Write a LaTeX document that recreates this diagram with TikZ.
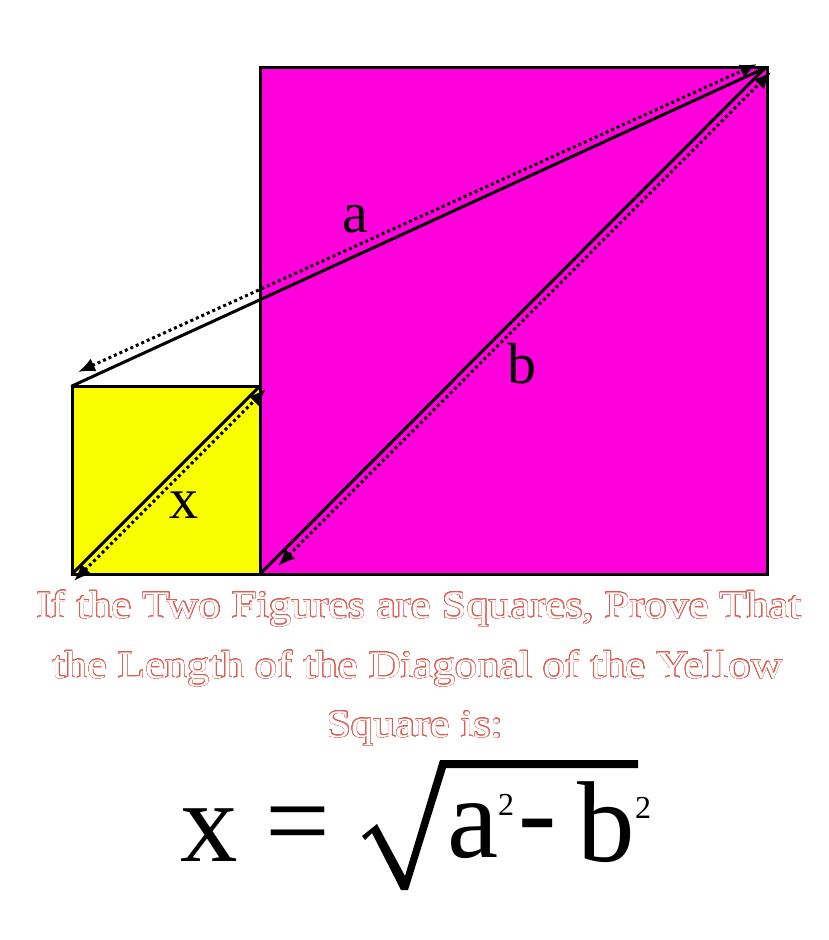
\documentclass[tikz,border=0pt]{standalone}
\usepackage{fontspec}
\setmainfont{Liberation Serif}
\newfontfamily\capfont[FakeStretch=1.14]{Liberation Serif}
\usepackage[copies]{contour}
\contourlength{0.5pt}
\contournumber{24}
\usetikzlibrary{arrows.meta}
\definecolor{mag}{RGB}{255,0,221}
\definecolor{yel}{RGB}{250,255,0}
\definecolor{salmon}{RGB}{215,95,85}
\tikzset{
  sq/.style={draw=black, line width=3pt},
  solidline/.style={draw=black, line width=3pt, line cap=round},
  dimarrow/.style={draw=black, line width=3pt, dash pattern=on 3pt off 3pt,
     {Latex[length=17pt,width=14pt]}-{Latex[length=17pt,width=14pt]}},
  lbl/.style={font=\fontsize{58}{60}\selectfont, inner sep=0pt, anchor=base},
  capline/.style={font=\capfont\fontsize{39}{48}\selectfont, inner sep=0pt, anchor=base},
  big/.style={font=\fontsize{115}{120}\selectfont, inner sep=0pt, anchor=center},
  sup/.style={font=\fontsize{32}{34}\selectfont, inner sep=0pt, anchor=center},
}
\newcommand{\outl}[1]{\contour{salmon}{\textcolor{white}{#1}}}
\begin{document}
\begin{tikzpicture}[x=1pt,y=-1pt]
\useasboundingbox (0,0) rectangle (828,940);
% corners
\coordinate (MTL) at (260,67);
\coordinate (MBR) at (767,574);
\coordinate (MTR) at (765,68);
\coordinate (YTL) at (72,386);
\coordinate (YBR) at (260,574);
\coordinate (YBL) at (72,574);
\coordinate (YTR) at (260,386);
% squares
\fill[mag] (MTL) rectangle (MBR);
\fill[yel] (YTL) rectangle (YBR);
\draw[sq] (MTL) rectangle (MBR);
\draw[sq] (YTL) rectangle (YBR);
% solid lines
\draw[solidline] (YTL) -- (MTR);
\draw[solidline] (YBR) -- (MTR);
\draw[solidline] (YBL) -- (YTR);
% dotted arrow end points
\coordinate (aS) at (78,372);
\coordinate (aE) at (757,64);
\coordinate (bS) at (278,566);
\coordinate (bE) at (771,72);
\coordinate (xS) at (74,581);
\coordinate (xE) at (266,389);
\draw[dimarrow] (aS) -- (aE);
\draw[dimarrow] (bS) -- (bE);
\draw[dimarrow] (xS) -- (xE);
% labels
\node[lbl] (la) at (355,232) {a};
\node[lbl] (lb) at (522,383) {b};
\node[lbl] (lx) at (184,518) {x};
% caption
\node[capline] (cap1) at (419,618) {\outl{If the Two Figures are Squares, Prove That}};
\node[capline] (cap2) at (418,678) {\outl{the Length of the Diagonal of the Yellow}};
\node[capline] (cap3) at (415,737) {\outl{Square is:}};
% formula
\node[big] (fx) at (209,835) {x};
\node[big] (feq) at (298,833) {=};
\fill[black] (362,836) -- (377,824) -- (405,876) -- (440,760) -- (638,760) -- (638,768)
   -- (446,768) -- (408,890) -- (401,890) -- (372,833) -- (365,840) -- cycle;
\node[big] (fa) at (473,831) {a};
\node[sup] (fa2) at (506,805) {2};
\node[big] (fminus) at (538,835) {-};
\node[big] (fb) at (606,822) {b};
\node[sup] (fb2) at (643,808) {2};
\end{tikzpicture}
\end{document}
